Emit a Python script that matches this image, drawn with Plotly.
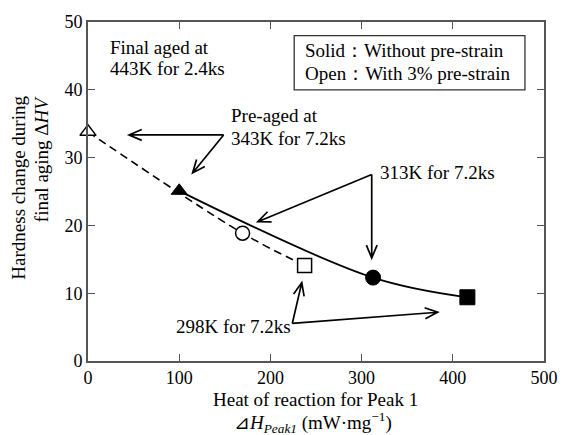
import math
import plotly.graph_objects as go

# ---- data ----
open_x = [0, 169.5, 237.5]          # with 3% pre-strain
open_y = [33.8, 18.85, 14.1]
solid_x = [100, 312.6, 416]         # without pre-strain
solid_y = [25.1, 12.3, 9.4]
symbols = ["triangle-up", "circle", "square"]
x_ticks = [0, 100, 200, 300, 400, 500]
y_ticks = [0, 10, 20, 30, 40, 50]

# ---- layout geometry ----
W, H = 570, 435
ML, MR, MT, MB = 88, 16, 18, 74
PW, PH = W - ML - MR, H - MT - MB
XR, YR = (0, 500), (0, 50)
FONT = "Liberation Serif, Times New Roman, serif"
AXC = "#555555"

def to_px(x, y):
    return (ML + (x - XR[0]) / (XR[1] - XR[0]) * PW,
            MT + (YR[1] - y) / (YR[1] - YR[0]) * PH)

def to_data(px, py):
    return (XR[0] + (px - ML) / PW * (XR[1] - XR[0]),
            YR[1] - (py - MT) / PH * (YR[1] - YR[0]))

def arrow_path(x0, y0, x1, y1, L=13, Wd=5.5):
    p0, p1 = to_px(x0, y0), to_px(x1, y1)
    dx, dy = p1[0] - p0[0], p1[1] - p0[1]
    n = math.hypot(dx, dy)
    ux, uy = dx / n, dy / n
    bx, by = p1[0] - L * ux, p1[1] - L * uy
    h1 = to_data(bx - Wd * uy, by + Wd * ux)
    h2 = to_data(bx + Wd * uy, by - Wd * ux)
    return (f"M{x0},{y0} L{x1},{y1} M{h1[0]},{h1[1]} L{x1},{y1} L{h2[0]},{h2[1]}")

fig = go.Figure()
fig.add_trace(go.Scatter(x=open_x, y=open_y, mode="lines",
                         line=dict(color="black", width=1.6, dash="8px,5px", shape="spline"),
                         showlegend=False, hoverinfo="skip"))
fig.add_trace(go.Scatter(x=solid_x, y=solid_y, mode="lines",
                         line=dict(color="black", width=1.8, shape="spline"),
                         showlegend=False, hoverinfo="skip"))
fig.add_trace(go.Scatter(x=open_x, y=open_y, mode="markers", cliponaxis=False, opacity=1,
                         marker=dict(symbol=symbols, size=[14, 14, 14], color="white", opacity=1,
                                     line=dict(color="black", width=1.5)),
                         showlegend=False))
fig.add_trace(go.Scatter(x=solid_x, y=solid_y, mode="markers", cliponaxis=False, opacity=1,
                         marker=dict(symbol=symbols, size=[14, 15, 15], color="black", opacity=1,
                                     line=dict(color="black", width=1)),
                         showlegend=False))

# arrows (start -> end in data coordinates)
arrows = [
    (148.7, 33.34, 45.0, 33.34),
    (148.7, 33.34, 114.7, 27.74),
    (311.1, 27.5, 186.2, 20.55),
    (311.1, 27.5, 311.1, 15.2),
    (224.0, 5.54, 234.4, 11.56),
    (224.0, 5.54, 383.4, 7.19),
]
shapes = [dict(type="path", xref="x", yref="y", path=arrow_path(*a),
               line=dict(color="black", width=1.7)) for a in arrows]
# legend box
shapes.append(dict(type="rect", xref="x", yref="y", x0=226.1, x1=479.1, y0=40.0, y1=48.0,
                   line=dict(color="#333", width=1.3), fillcolor="rgba(0,0,0,0)"))

fs = 19
ann = []
def txt(x, y, t, xanchor="left", size=fs, **kw):
    ann.append(dict(x=x, y=y, xref="x", yref="y", text=t, showarrow=False,
                    xanchor=xanchor, yanchor="middle", font=dict(family=FONT, size=size, color="black"), **kw))

txt(21.8, 46.2, "Final aged at")
txt(21.8, 43.1, "443K for 2.4ks")
txt(154.7, 36.15, "Pre-aged at")
txt(154.7, 32.8, "343K for 7.2ks")
txt(318.3, 27.84, "313K for 7.2ks")
txt(94.3, 5.1, "298K for 7.2ks")
txt(236.1, 45.8, "Solid：Without pre-strain")
txt(236.1, 42.4, "Open：With 3% pre-strain")

def paper(t, x, y, **kw):
    d = dict(x=x, y=y, xref="paper", yref="paper", text=t, showarrow=False,
             font=dict(family=FONT, size=fs, color="black"))
    d.update(kw)
    ann.append(d)

paper("Hardness change during", (17 - ML) / PW, (H - MB - 91) / PH, textangle=-90,
      xanchor="center", yanchor="top")
paper("final aging Δ<i>HV</i>", (40 - ML) / PW, (H - MB - 91) / PH,
      textangle=-90, xanchor="center", yanchor="top")
paper("Heat of reaction for Peak 1", (320.8 - ML) / PW, (H - MB - 400) / PH,
      xanchor="center", yanchor="middle")
paper("⊿<i>H</i><sub><i>Peak1</i></sub> (mW·mg<sup>−1</sup>)", (318 - ML) / PW, (H - MB - 423) / PH,
      xanchor="center", yanchor="middle")

axis_common = dict(showline=True, linecolor=AXC, linewidth=1.6, mirror="ticks",
                   ticks="inside", ticklen=7, tickwidth=1.4, tickcolor=AXC,
                   showgrid=False, zeroline=False,
                   tickfont=dict(family=FONT, size=18, color="black"))
fig.update_layout(
    width=W, height=H,
    margin=dict(l=ML, r=MR, t=MT, b=MB, pad=0),
    paper_bgcolor="white", plot_bgcolor="white",
    xaxis=dict(range=list(XR), tickvals=x_ticks, **axis_common),
    yaxis=dict(range=list(YR), tickvals=y_ticks, **axis_common),
    shapes=shapes, annotations=ann, showlegend=False,
)
fig.write_html("out.html")
